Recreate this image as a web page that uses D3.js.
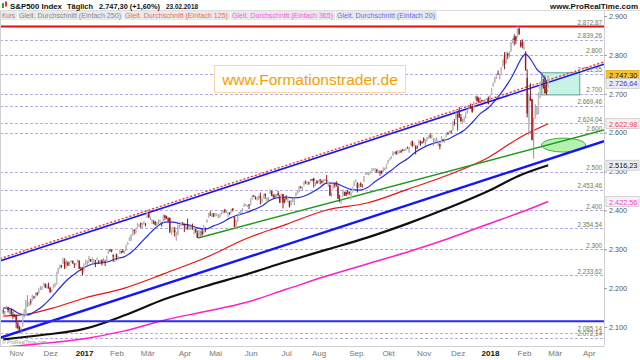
<!DOCTYPE html>
<meta charset="utf-8">
<script src="https://d3js.org/d3.v7.min.js"></script>
<style>
  body { margin: 0; background: #fff; }
  svg { display: block; font-family: "Liberation Sans", Arial, sans-serif; }
</style>
<div id="chart"></div>
<script>

// daily candles, 20.10.2016 .. 23.02.2018 (trading day index 0..337)
const opens = [
  2142,2140,2149,2151,2137,2144,2132,2130,
  2129,2110,2100,2084,2101,2132,2131,2167,2163,2166,2168,2178,2177,2187,2186,2202,2199,2207,2210,2200,2205,
  2200,2191,2200,2208,2211,2242,2250,2258,2263,2268,2253,2266,2259,2266,2270,2263,2261,2266,2270,2250,2252,
  2252,2261,2269,2272,2274,2269,2269,2271,2273,2269,2269,2272,2270,2268,2267,2288,2298,2299,2286,2274,
  2286,2277,2289,2294,2296,2290,2296,2313,2322,2327,2336,2350,2343,2355,2363,2368,2357,2366,2366,
  2381,2395,2381,2375,2370,2370,2363,2372,2372,2368,2370,2387,2384,2379,2380,2341,2345,2350,2329,2339,2356,2361,2366,
  2362,2355,2363,2353,2356,2358,2354,2352,2342,2332,2342,2346,2342,2355,2370,2382,2389,2389,2393,
  2388,2391,2386,2390,2392,2399,2401,2397,2394,2394,2394,2405,2383,2354,2371,2388,2398,2401,2409,2414,2412,2415,
  2415,2432,2437,2432,2432,2433,2437,2425,2434,2442,2424,2431,2442,2450,2439,2437,2434,2444,2436,2428,2442,2430,
  2431,2430,2424,2413,2425,2424,2436,2445,2449,2460,2455,2464,2475,2467,2472,2475,2480,2482,2469,2475,
  2475,2480,2476,2476,2478,2478,2465,2466,2439,2454,2469,2469,2461,2428,2426,2435,2445,2447,2444,2447,2431,2447,2462,
  2475,2471,2463,2469,2462,2474,2492,2494,2494,2496,2502,2506,2507,2504,2498,2500,2501,2504,2503,2510,
  2521,2530,2533,2540,2547,2552,2549,2551,2552,2557,2556,2557,2562,2553,2568,2579,2568,2566,2561,2570,2577,2576,
  2584,2579,2582,2588,2592,2588,2585,2580,2576,2577,2570,2573,2583,2579,2588,2600,2600,2603,2606,2627,2634,
  2645,2657,2640,2627,2628,2646,2653,2661,2667,2666,2661,2685,2692,2689,2683,2684,2679,2683,2686,2690,
  2683,2698,2719,2731,2742,2752,2745,2752,2771,2799,2784,2803,2803,2810,2836,2845,2847,2848,2867,2832,2832,
  2816,2808,2741,2615,2690,2686,2601,2636,2647,2651,2713,2728,2725,2722,2711,2716
];
const highs = [
  2147,2142,2154,2152,2146,2147,2140,2134,
  2132,2112,2103,2099,2132,2146,2170,2182,2165,2172,2183,2180,2189,2190,2199,2205,2205,2214,2212,2211,2214,
  2203,2197,2210,2213,2242,2252,2260,2260,2278,2277,2272,2269,2267,2272,2271,2264,2264,2274,2272,2255,2254,
  2264,2273,2271,2283,2275,2279,2275,2272,2279,2272,2272,2274,2277,2273,2284,2299,2301,2299,2286,2279,
  2289,2283,2299,2296,2300,2297,2312,2319,2331,2338,2351,2351,2352,2367,2365,2368,2368,2372,2367,
  2401,2395,2384,2378,2375,2373,2370,2377,2376,2369,2390,2388,2386,2382,2382,2350,2358,2357,2344,2364,2363,2371,2370,
  2366,2361,2379,2364,2363,2366,2356,2353,2348,2349,2348,2353,2362,2356,2377,2393,2398,2392,2393,
  2394,2392,2390,2392,2399,2401,2404,2400,2396,2395,2404,2405,2384,2375,2390,2396,2400,2406,2418,2416,2414,2416,
  2430,2440,2440,2436,2435,2439,2446,2432,2441,2444,2433,2434,2454,2451,2441,2442,2441,2450,2440,2443,2442,2430,
  2439,2435,2425,2427,2432,2429,2446,2450,2463,2463,2461,2474,2477,2473,2474,2481,2481,2484,2473,2478,
  2478,2480,2477,2480,2481,2491,2474,2466,2446,2468,2469,2475,2466,2440,2430,2454,2448,2449,2453,2449,2449,2460,2475,
  2480,2472,2469,2472,2468,2488,2497,2498,2499,2500,2509,2508,2509,2507,2503,2502,2503,2511,2510,2520,
  2529,2535,2540,2552,2550,2552,2555,2555,2556,2557,2558,2560,2564,2563,2576,2579,2573,2567,2567,2582,2580,2578,
  2588,2583,2588,2593,2598,2595,2586,2585,2588,2580,2572,2591,2583,2585,2600,2601,2605,2606,2629,2635,2657,
  2650,2666,2648,2635,2641,2651,2660,2670,2675,2669,2680,2694,2695,2691,2692,2685,2682,2686,2688,2693,
  2696,2715,2729,2744,2749,2760,2751,2768,2788,2807,2808,2806,2810,2833,2842,2853,2849,2873,2870,2838,2840,
  2835,2809,2763,2701,2727,2686,2638,2673,2668,2703,2731,2754,2738,2747,2731,2747
];
const lows = [
  2133,2130,2146,2137,2132,2128,2120,2125,
  2097,2094,2084,2084,2101,2124,2128,2152,2153,2157,2168,2172,2176,2181,2186,2195,2195,2207,2200,2199,2199,
  2187,2189,2199,2202,2209,2237,2249,2252,2263,2249,2253,2257,2257,2266,2262,2252,2259,2266,2249,2244,2233,
  2245,2261,2260,2264,2268,2266,2260,2254,2272,2262,2264,2258,2266,2257,2266,2288,2294,2292,2268,2267,
  2272,2271,2289,2289,2290,2288,2296,2311,2321,2321,2335,2338,2340,2355,2358,2355,2355,2363,2359,
  2381,2380,2375,2365,2364,2361,2354,2364,2368,2358,2366,2375,2378,2370,2342,2337,2343,2333,2322,2336,2353,2359,2362,
  2344,2350,2350,2350,2350,2350,2338,2342,2329,2332,2332,2335,2340,2344,2368,2381,2386,2383,2383,
  2384,2385,2380,2381,2389,2392,2393,2393,2382,2388,2394,2397,2357,2352,2370,2386,2391,2397,2409,2411,2409,2403,
  2413,2428,2434,2428,2425,2427,2415,2419,2431,2429,2419,2423,2442,2437,2430,2431,2432,2436,2419,2428,2405,2418,
  2428,2421,2407,2413,2421,2413,2436,2442,2446,2456,2450,2464,2468,2465,2466,2474,2475,2459,2463,2468,
  2472,2467,2469,2471,2475,2470,2461,2437,2435,2454,2459,2461,2430,2421,2417,2435,2437,2437,2442,2440,2428,2446,2462,
  2473,2446,2457,2460,2459,2474,2491,2491,2490,2493,2500,2503,2496,2497,2496,2489,2493,2499,2503,2507,
  2520,2528,2532,2540,2545,2543,2544,2547,2547,2552,2552,2553,2559,2548,2567,2564,2566,2544,2560,2567,2566,2571,
  2574,2566,2577,2585,2585,2585,2566,2576,2575,2566,2557,2573,2578,2574,2588,2594,2600,2598,2605,2618,2634,
  2605,2638,2627,2625,2626,2637,2650,2660,2662,2652,2657,2685,2680,2676,2682,2678,2677,2679,2685,2673,
  2683,2698,2719,2728,2738,2748,2737,2752,2770,2763,2778,2789,2795,2808,2830,2824,2828,2846,2851,2819,2817,
  2813,2759,2639,2593,2681,2580,2533,2636,2646,2648,2689,2725,2713,2701,2697,2716
];
const closes = [
  2141,2141,2151,2143,2139,2133,2126,2126,
  2112,2098,2089,2085,2132,2140,2163,2167,2164,2164,2180,2177,2187,2182,2198,2203,2205,2213,2202,2205,2199,
  2191,2192,2205,2212,2241,2246,2260,2257,2272,2253,2262,2258,2263,2271,2265,2261,2264,2269,2250,2249,2239,
  2258,2271,2269,2277,2269,2269,2275,2270,2275,2268,2272,2264,2271,2265,2280,2298,2297,2295,2281,2279,
  2280,2281,2297,2293,2293,2295,2308,2316,2328,2338,2349,2347,2351,2365,2363,2364,2367,2370,2364,
  2396,2382,2383,2375,2368,2363,2365,2373,2373,2365,2385,2381,2378,2373,2344,2348,2346,2344,2342,2359,2361,2368,2363,
  2359,2360,2353,2357,2356,2357,2354,2345,2329,2349,2342,2338,2356,2349,2374,2389,2387,2389,2384,
  2388,2391,2388,2390,2399,2399,2397,2400,2394,2391,2402,2401,2357,2366,2382,2394,2398,2404,2415,2416,2413,2412,
  2430,2439,2436,2429,2433,2434,2432,2429,2440,2438,2432,2433,2453,2437,2436,2435,2438,2439,2419,2441,2420,2423,
  2429,2433,2410,2425,2427,2426,2443,2448,2459,2459,2461,2474,2473,2473,2470,2477,2478,2475,2472,2470,
  2476,2478,2472,2477,2481,2475,2474,2438,2441,2466,2465,2468,2430,2426,2428,2453,2444,2439,2443,2444,2446,2458,2472,
  2477,2458,2466,2465,2461,2488,2496,2498,2496,2500,2504,2507,2508,2501,2502,2497,2497,2507,2510,2519,
  2529,2535,2538,2552,2549,2545,2551,2555,2551,2553,2558,2559,2561,2562,2575,2565,2569,2557,2560,2581,2573,2575,
  2579,2580,2588,2591,2591,2594,2585,2582,2585,2579,2565,2586,2579,2582,2599,2597,2602,2601,2627,2626,2648,
  2642,2639,2630,2629,2637,2652,2660,2664,2663,2652,2676,2690,2681,2679,2685,2683,2681,2683,2688,2674,
  2696,2713,2724,2743,2748,2751,2748,2768,2786,2776,2803,2798,2810,2833,2839,2838,2839,2873,2854,2822,2824,
  2822,2762,2649,2695,2682,2581,2620,2656,2663,2699,2731,2732,2716,2701,2704,2747
];

// moving averages: [trading day index, value]
const ma20 = [[0,2149],[5,2146],[10,2134],[15,2131],[20,2141],[25,2156],[30,2177],[35,2201],[40,2223],[45,2239],
  [50,2253],[55,2262],[60,2265],[65,2268],[70,2276],[75,2281],[80,2295],[85,2316],[90,2338],[95,2358],[100,2370],
  [105,2370],[110,2365],[115,2362],[120,2355],[125,2352],[130,2360],[135,2368],[140,2380],[145,2388],[150,2394],
  [155,2402],[160,2411],[165,2426],[170,2433],[175,2434],[180,2432],[185,2435],[190,2444],[195,2456],[200,2470],
  [205,2470],[210,2462],[215,2454],[220,2452],[225,2458],[230,2474],[235,2488],[240,2503],[245,2520],[250,2533],
  [255,2550],[260,2562],[265,2571],[270,2577],[275,2583],[280,2594],[285,2606],[290,2626],[295,2649],[300,2664],
  [305,2687],[310,2714],[315,2747],[318,2772],[320,2788],[323,2802],[325,2795],[327,2783],[330,2763],[333,2751],
  [335,2738],[337,2727]];
const ma125 = [[0,2128],[15,2133],[30,2148],[50,2174],[75,2200],[100,2238],[125,2278],[150,2327],[175,2364],
  [200,2401],[225,2419],[250,2454],[275,2491],[300,2536],[320,2589],[337,2623]];
const ma250 = [[0,2068],[25,2080],[50,2095],[75,2130],[100,2172],[125,2205],[150,2235],[175,2268],[200,2299],
  [225,2330],[250,2366],[275,2406],[300,2450],[320,2491],[337,2516]];
const ma365 = [[0,2048],[25,2058],[50,2070],[75,2090],[100,2118],[125,2140],[150,2163],[175,2197],[200,2231],
  [225,2262],[250,2293],[275,2327],[300,2365],[320,2395],[337,2423]];

// drawn objects
const upperChannel = [[-2, 2270], [371.5, 2776]];
const upperDashed = [[-2, 2276], [371.5, 2782]];
const lowerChannel = [[-2, 2072], [371.5, 2578]];
const supportLine = [[120.5, 2329], [371.5, 2607]];
const topLevel = 2872.87;
const bottomLevel = 2115;
const levels = [2839.26, 2800, 2751.55, 2700, 2669.46, 2624.04, 2600, 2500, 2453.46, 2400, 2354.54, 2300, 2233.62, 2085.14, 2072.14];
const boxDays = [333, 356.5], boxValues = [2697, 2754];
const ellipseCenter = [346.5, 2568], ellipseRadius = [13.6, 18];

// axes and labels
const monthDays = [8, 29, 50, 70, 89, 112, 131, 153, 175, 195, 218, 238, 260, 281, 301, 322, 341, 362];
const monthLabels = ["Nov", "Dez", "2017", "Feb", "Mär", "Apr", "Mai", "Jun", "Jul", "Aug", "Sep", "Okt", "Nov", "Dez", "2018", "Feb", "Mär", "Apr"];
const priceTicks = [2100, 2200, 2300, 2400, 2500, 2600, 2700, 2800, 2900];
const lastValues = [2747.30, 2726.64, 2622.98, 2516.23, 2422.56];
const legendItems = ["Kurs", "Gleit. Durchschnitt (Einfach 250)", "Gleit. Durchschnitt (Einfach 125)", "Gleit. Durchschnitt (Einfach 365)", "Gleit. Durchschnitt (Einfach 20)"];

const width = 640, height = 360;
const plot = {left: 0, right: 604, top: 10, bottom: 346};

const de = d3.formatLocale({decimal: ",", thousands: ".", grouping: [3], currency: ["", ""]});
const fmt0 = de.format(",.0f"), fmt2 = de.format(",.2f");
const fmtLevel = v => Number.isInteger(v) ? fmt0(v) : fmt2(v);

const x = d3.scaleLinear().domain([-2, 371.5]).range([plot.left, plot.right]);
const y = d3.scaleLinear().domain([2100, 2900]).range([327, 16]);

const svg = d3.select("#chart").append("svg")
  .attr("width", width).attr("height", height);

svg.append("defs").append("clipPath").attr("id", "clip")
  .append("rect").attr("x", plot.left).attr("y", plot.top)
  .attr("width", plot.right - plot.left).attr("height", plot.bottom - plot.top);

const g = svg.append("g").attr("clip-path", "url(#clip)");

// dashed level lines
g.selectAll(".lvl").data(levels).join("line")
  .attr("x1", plot.left).attr("x2", plot.right)
  .attr("y1", d => Math.round(y(d)) + 0.5).attr("y2", d => Math.round(y(d)) + 0.5)
  .attr("stroke", "#b9a9e3").attr("stroke-dasharray", "3,2");

// box and ellipse
g.append("rect")
  .attr("x", x(boxDays[0])).attr("y", y(boxValues[1]))
  .attr("width", x(boxDays[1]) - x(boxDays[0])).attr("height", y(boxValues[0]) - y(boxValues[1]))
  .attr("fill", "#bdf0e2").attr("fill-opacity", 0.85).attr("stroke", "#62a896");
g.append("ellipse")
  .attr("cx", x(ellipseCenter[0])).attr("cy", y(ellipseCenter[1]))
  .attr("rx", x(ellipseCenter[0] + ellipseRadius[0]) - x(ellipseCenter[0]))
  .attr("ry", y(ellipseCenter[1] - ellipseRadius[1]) - y(ellipseCenter[1]))
  .attr("fill", "#b6f0ae").attr("stroke", "#3cb43c");

// moving averages
const maLine = d3.line().x(d => x(d[0])).y(d => y(d[1])).curve(d3.curveMonotoneX);
g.append("path").datum(ma365).attr("d", maLine).attr("fill", "none").attr("stroke", "#ff1fd0").attr("stroke-width", 1.5);
g.append("path").datum(ma250).attr("d", maLine).attr("fill", "none").attr("stroke", "#111").attr("stroke-width", 2.2);
g.append("path").datum(ma125).attr("d", maLine).attr("fill", "none").attr("stroke", "#f01010").attr("stroke-width", 1.2);
g.append("path").datum(ma20).attr("d", maLine).attr("fill", "none").attr("stroke", "#1f2fe6").attr("stroke-width", 1.2);

// trend lines
const seg = d3.line().x(d => x(d[0])).y(d => y(d[1]));
g.append("path").datum(lowerChannel).attr("d", seg).attr("stroke", "#1414ff").attr("stroke-width", 2.4);
g.append("path").datum(supportLine).attr("d", seg).attr("stroke", "#1f9a1f").attr("stroke-width", 1.4);
g.append("path").datum(upperChannel).attr("d", seg).attr("stroke", "#1414ff").attr("stroke-width", 1.6);
g.append("path").datum(upperDashed).attr("d", seg).attr("stroke", "#ff3030").attr("stroke-width", 1.4).attr("stroke-dasharray", "2,2");
g.append("line").attr("x1", plot.left).attr("x2", plot.right)
  .attr("y1", y(topLevel)).attr("y2", y(topLevel)).attr("stroke", "#e50d0d").attr("stroke-width", 2);
g.append("line").attr("x1", plot.left).attr("x2", plot.right)
  .attr("y1", y(bottomLevel)).attr("y2", y(bottomLevel)).attr("stroke", "#2a2aff").attr("stroke-width", 2);

// candles
const days = d3.range(closes.length);
const up = i => closes[i] >= opens[i];
g.append("g").selectAll("line").data(days).join("line")
  .attr("x1", i => x(i)).attr("x2", i => x(i))
  .attr("y1", i => y(Math.max(highs[i], opens[i], closes[i])))
  .attr("y2", i => y(Math.min(lows[i], opens[i], closes[i])))
  .attr("stroke", i => up(i) ? "#8a8a8a" : "#6e1010").attr("stroke-width", 0.9);
g.append("g").selectAll("rect").data(days).join("rect")
  .attr("x", i => x(i) - 0.7).attr("width", 1.4)
  .attr("y", i => y(Math.max(opens[i], closes[i])))
  .attr("height", i => Math.max(0.8, Math.abs(y(opens[i]) - y(closes[i]))))
  .attr("fill", i => up(i) ? "#bcbcbc" : "#b01212");

// level labels
svg.append("g").selectAll("text").data(levels.concat([topLevel])).join("text")
  .attr("x", plot.right - 2).attr("y", d => y(d) - 1.5)
  .attr("text-anchor", "end").attr("font-size", 6.3).attr("fill", "#6b7a55")
  .text(fmtLevel);

// frame
svg.append("line").attr("x1", 0.5).attr("x2", 0.5).attr("y1", plot.top).attr("y2", plot.bottom).attr("stroke", "#d0d0d0");
svg.append("line").attr("x1", plot.right + 0.5).attr("x2", plot.right + 0.5).attr("y1", plot.top).attr("y2", plot.bottom).attr("stroke", "#d0d0d0");
svg.append("line").attr("x1", 0).attr("x2", plot.right).attr("y1", plot.bottom + 0.5).attr("y2", plot.bottom + 0.5).attr("stroke", "#d0d0d0");
svg.append("line").attr("x1", 0).attr("x2", width).attr("y1", plot.top + 0.5).attr("y2", plot.top + 0.5).attr("stroke", "#dcdcdc");

// right price axis
const yAxis = svg.append("g").attr("transform", `translate(${plot.right},0)`)
  .call(d3.axisRight(y).tickValues(priceTicks).tickFormat(fmt0).tickSize(3).tickPadding(2));
yAxis.select(".domain").remove();
yAxis.selectAll("line").attr("stroke", "#999");
yAxis.selectAll("text").attr("font-size", 7.2).attr("fill", "#555").attr("font-family", "Liberation Sans, Arial, sans-serif");

// last value boxes
const boxFill = ["#f3c234", "#ececf2", "#f2f2f2", "#ececec", "#f4f4f4"];
const boxText = ["#222", "#3a3ae0", "#f04040", "#111", "#f040d0"];
const vb = svg.append("g").selectAll("g").data(lastValues).join("g")
  .attr("transform", d => `translate(${plot.right + 2},${y(d)})`);
vb.append("rect").attr("x", 0).attr("y", -5).attr("width", 33).attr("height", 10)
  .attr("fill", (d, i) => boxFill[i]).attr("stroke", (d, i) => i === 0 ? "#e0a800" : "#bbb").attr("stroke-width", 0.6);
vb.append("text").attr("x", 3).attr("y", 3).attr("font-size", 7.3)
  .attr("fill", (d, i) => boxText[i]).text(fmt2);

// bottom month axis
const xAxis = svg.append("g").attr("transform", `translate(0,${plot.bottom})`)
  .call(d3.axisBottom(x).tickValues(monthDays).tickFormat((d, i) => monthLabels[i]).tickSize(0).tickPadding(4));
xAxis.select(".domain").remove();
xAxis.selectAll("text").attr("font-size", 8).attr("fill", "#777").attr("font-family", "Liberation Sans, Arial, sans-serif")
  .filter((d, i) => /^\d+$/.test(monthLabels[i])).attr("fill", "#111").attr("font-weight", "bold");

svg.append("text").attr("x", 2).attr("y", 344).attr("font-size", 5).attr("fill", "#999").text("© ProRealTime.com");

// header
svg.append("rect").attr("x", 0).attr("y", 0).attr("width", width).attr("height", plot.top).attr("fill", "#fff");
svg.append("rect").attr("x", 2).attr("y", 3).attr("width", 2).attr("height", 5).attr("fill", "#2fa52f");
svg.append("rect").attr("x", 5).attr("y", 1.5).attr("width", 2).attr("height", 5).attr("fill", "#e03030");
const title = [["S&P500 Index", 10, 52], ["Täglich", 67, 26], ["2.747,30 (+1,60%)", 99, 61], ["23.02.2018", 166, 32]];
svg.append("g").selectAll("text").data(title).join("text")
  .attr("x", d => d[1]).attr("y", 8.5).attr("textLength", d => d[2]).attr("lengthAdjust", "spacingAndGlyphs")
  .attr("font-size", 8).attr("font-weight", "bold").attr("fill", "#111").text(d => d[0]);
svg.append("text").attr("x", 638).attr("y", 8.5).attr("text-anchor", "end")
  .attr("font-size", 8).attr("font-weight", "bold").attr("fill", "#111").text("www.ProRealTime.com");

// legend
const legendX = [1, 18, 124, 231, 336];
const legendW = [16, 105, 106, 104, 101];
const legendColor = ["#8a8a8a", "#8a8a8a", "#f06a6a", "#f060e0", "#6a6af0"];
const lg = svg.append("g").selectAll("g").data(legendItems).join("g")
  .attr("transform", (d, i) => `translate(${legendX[i]},11)`);
lg.append("rect").attr("width", (d, i) => legendW[i]).attr("height", 9).attr("fill", "#e9e9e9");
lg.append("text").attr("x", 1).attr("y", 7.3).attr("font-size", 7.6)
  .attr("textLength", (d, i) => legendW[i] - 3).attr("lengthAdjust", "spacingAndGlyphs")
  .attr("fill", (d, i) => legendColor[i]).text(d => d);

// watermark
svg.append("rect").attr("x", 214.5).attr("y", 65.5).attr("width", 191).attr("height", 27)
  .attr("fill", "#fff").attr("stroke", "#f7d9a8");
svg.append("text").attr("x", 310).attr("y", 84.5).attr("text-anchor", "middle")
  .attr("font-size", 15.5).attr("fill", "#f7a000").text("www.Formationstrader.de");

</script>
